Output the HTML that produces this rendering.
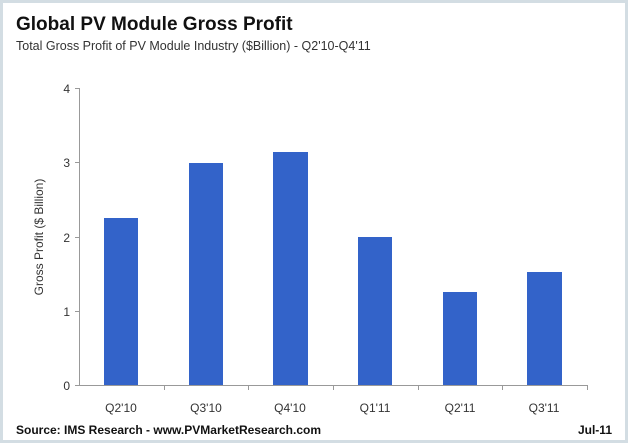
<!DOCTYPE html>
<html><head><style>
body{margin:0;width:628px;height:443px;background:#fff;overflow:hidden;font-family:"Liberation Sans",sans-serif}
</style></head><body>
<svg width="628" height="443" xmlns="http://www.w3.org/2000/svg" font-family="Liberation Sans, sans-serif">
<rect x="1.5" y="1.5" width="625" height="440" fill="#fff" stroke="#d3dde3" stroke-width="3"/>
<text x="16" y="30" font-size="19" font-weight="bold" fill="#111">Global PV Module Gross Profit</text>
<text x="16" y="50" font-size="12.5" fill="#333">Total Gross Profit of PV Module Industry ($Billion) - Q2'10-Q4'11</text>
<g stroke="#999" stroke-width="1">
<line x1="79.5" y1="88" x2="79.5" y2="385"/>
<line x1="79" y1="385.5" x2="588" y2="385.5"/>
<line x1="75" y1="88.5" x2="79" y2="88.5"/>
<line x1="75" y1="162.5" x2="79" y2="162.5"/>
<line x1="75" y1="237.5" x2="79" y2="237.5"/>
<line x1="75" y1="311.5" x2="79" y2="311.5"/>
<line x1="75" y1="385.5" x2="79" y2="385.5"/>
<line x1="164.5" y1="385" x2="164.5" y2="390"/>
<line x1="248.5" y1="385" x2="248.5" y2="390"/>
<line x1="333.5" y1="385" x2="333.5" y2="390"/>
<line x1="418.5" y1="385" x2="418.5" y2="390"/>
<line x1="502.5" y1="385" x2="502.5" y2="390"/>
<line x1="587.5" y1="385" x2="587.5" y2="390"/>
</g>
<g font-size="12" fill="#333" text-anchor="end">
<text x="70" y="93">4</text><text x="70" y="167">3</text><text x="70" y="242">2</text><text x="70" y="316">1</text><text x="70" y="390">0</text>
</g>
<text transform="translate(43,237) rotate(-90)" font-size="12" fill="#333" text-anchor="middle">Gross Profit  ($ Billion)</text>
<g fill="#3363c9">
<rect x="104" y="218" width="34" height="167"/>
<rect x="189" y="163" width="34" height="222"/>
<rect x="273" y="152" width="35" height="233"/>
<rect x="358" y="237" width="34" height="148"/>
<rect x="443" y="292" width="34" height="93"/>
<rect x="527" y="272" width="35" height="113"/>
</g>
<g font-size="12" fill="#333" text-anchor="middle">
<text x="121" y="412">Q2'10</text><text x="206" y="412">Q3'10</text><text x="290" y="412">Q4'10</text>
<text x="375" y="412">Q1'11</text><text x="460" y="412">Q2'11</text><text x="544" y="412">Q3'11</text>
</g>
<text x="16" y="434" font-size="12" font-weight="bold" fill="#111">Source: IMS Research - www.PVMarketResearch.com</text>
<text x="612" y="434" font-size="12" font-weight="bold" fill="#111" text-anchor="end">Jul-11</text>
</svg>
</body></html>
